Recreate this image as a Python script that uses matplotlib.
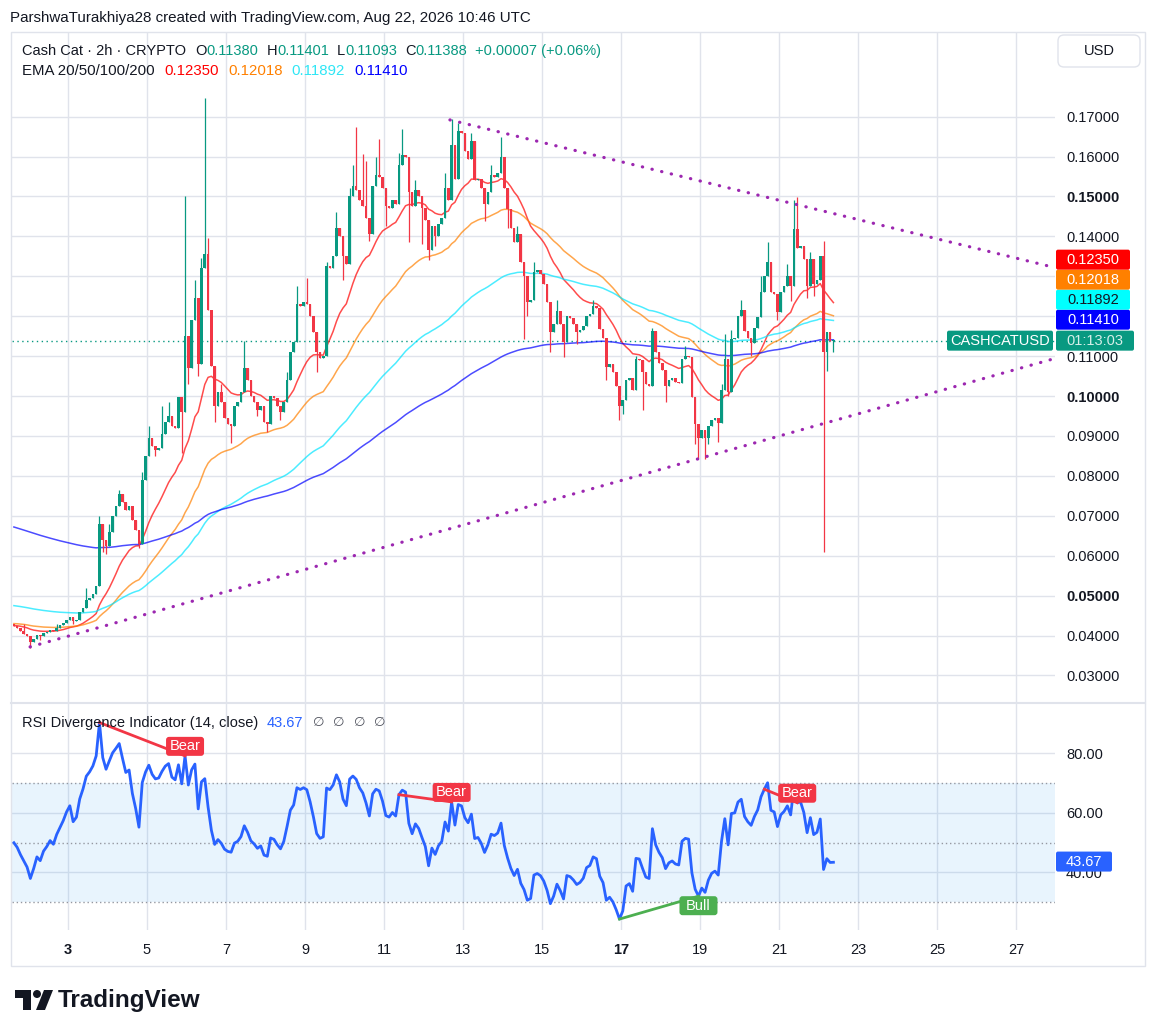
import numpy as np
import matplotlib.pyplot as plt
from matplotlib.patches import Rectangle, FancyBboxPatch, Polygon, Circle
from matplotlib.lines import Line2D
from matplotlib.transforms import IdentityTransform

plt.rcParams['font.family'] = ['Liberation Sans', 'DejaVu Sans']

W, H = 1157, 1036

# %% data (2h candles, x in day of month)
first_day = 1.63
first_open = 0.0430
closes = [
    0.0425, 0.0420, 0.0412, 0.0405, 0.0398, 0.0384, 0.0392, 0.0402, 0.0398, 0.0406,
    0.0410, 0.0415, 0.0412, 0.0420, 0.0426, 0.0432, 0.0440, 0.0446, 0.0436, 0.0440,
    0.0458, 0.0470, 0.0488, 0.0495, 0.0505, 0.0525, 0.0680, 0.0640, 0.0625, 0.0660,
    0.0700, 0.0725, 0.0755, 0.0735, 0.0715, 0.0725, 0.0690, 0.0665, 0.0630, 0.0790,
    0.0850, 0.0895, 0.0875, 0.0865, 0.0870, 0.0905, 0.0935, 0.0950, 0.0925, 0.0920,
    0.0998, 0.0960, 0.1150, 0.1070, 0.1190, 0.1245, 0.1080, 0.1320, 0.1355, 0.1215,
    0.1075, 0.0975, 0.1010, 0.0985, 0.0945, 0.0930, 0.0925, 0.0975, 0.0985, 0.1010,
    0.1070, 0.1040, 0.1000, 0.0985, 0.0965, 0.0975, 0.0935, 0.0930, 0.1000, 0.0995,
    0.0975, 0.0960, 0.0985, 0.1040, 0.1110, 0.1135, 0.1230, 0.1225, 0.1235, 0.1230,
    0.1200, 0.1160, 0.1110, 0.1095, 0.1100, 0.1325, 0.1320, 0.1350, 0.1420, 0.1400,
    0.1350, 0.1330, 0.1500, 0.1525, 0.1515, 0.1490, 0.1475, 0.1445, 0.1405, 0.1525,
    0.1555, 0.1550, 0.1520, 0.1475, 0.1470, 0.1490, 0.1480, 0.1580, 0.1605, 0.1600,
    0.1510, 0.1475, 0.1515, 0.1500, 0.1470, 0.1440, 0.1365, 0.1425, 0.1400, 0.1430,
    0.1445, 0.1520, 0.1490, 0.1630, 0.1545, 0.1665, 0.1660, 0.1615, 0.1595, 0.1640,
    0.1540, 0.1545, 0.1520, 0.1480, 0.1510, 0.1555, 0.1550, 0.1560, 0.1600, 0.1520,
    0.1468, 0.1420, 0.1385, 0.1405, 0.1335, 0.1300, 0.1235, 0.1240, 0.1310, 0.1315,
    0.1305, 0.1280, 0.1235, 0.1160, 0.1180, 0.1212, 0.1180, 0.1135, 0.1200, 0.1195,
    0.1180, 0.1160, 0.1165, 0.1175, 0.1200, 0.1205, 0.1225, 0.1220, 0.1167, 0.1145,
    0.1074, 0.1080, 0.1060, 0.1024, 0.0975, 0.0990, 0.1040, 0.1045, 0.1016, 0.1092,
    0.1090, 0.1060, 0.1030, 0.1025, 0.1162, 0.1110, 0.1084, 0.1065, 0.1024, 0.1040,
    0.1045, 0.1035, 0.1032, 0.1092, 0.1100, 0.1098, 0.0997, 0.0929, 0.0896, 0.0915,
    0.0896, 0.0924, 0.0940, 0.0945, 0.0932, 0.1016, 0.1092, 0.1010, 0.1142, 0.1145,
    0.1200, 0.1215, 0.1162, 0.1145, 0.1134, 0.1170, 0.1198, 0.1260, 0.1300, 0.1337,
    0.1260, 0.1255, 0.1210, 0.1260, 0.1275, 0.1300, 0.1275, 0.1418, 0.1370, 0.1375,
    0.1343, 0.1275, 0.1343, 0.1280, 0.1290, 0.1350, 0.1110, 0.1160, 0.1138, 0.11388,
]
# wicks that stick out of the bodies (candle index -> price)
highs = {3: 0.0428, 13: 0.0430, 22: 0.0520, 26: 0.0700, 29: 0.0680, 32: 0.0765, 39: 0.0810,
         41: 0.0925, 45: 0.0975, 47: 0.0985, 52: 0.1500, 55: 0.1290, 57: 0.1345, 58: 0.1747,
         59: 0.1395, 63: 0.1030, 70: 0.1137, 83: 0.1060, 86: 0.1275, 89: 0.1295, 95: 0.1335,
         98: 0.1460, 102: 0.1520, 103: 0.1580, 104: 0.1674, 106: 0.1606, 107: 0.1590,
         110: 0.1600, 111: 0.1644, 117: 0.1610, 118: 0.1670, 122: 0.1540, 131: 0.1560,
         133: 0.1694, 135: 0.1685, 139: 0.1660, 145: 0.1580, 148: 0.1650, 153: 0.1425,
         158: 0.1335, 165: 0.1240, 176: 0.1240, 189: 0.1100, 194: 0.1170, 204: 0.1125,
         215: 0.1030, 216: 0.1155, 218: 0.1165, 221: 0.1240, 227: 0.1300, 229: 0.1385,
         235: 0.1330, 237: 0.1490, 238: 0.1498, 242: 0.1360, 246: 0.1388, 249: 0.11401}
lows = {5: 0.0368, 8: 0.0388, 18: 0.0430, 27: 0.0610, 28: 0.0605, 38: 0.0620, 43: 0.0850,
        51: 0.0858, 53: 0.1030, 56: 0.1050, 61: 0.0936, 66: 0.0883, 74: 0.0950, 77: 0.0909,
        81: 0.0940, 92: 0.1060, 100: 0.1290, 108: 0.1388, 113: 0.1425, 120: 0.1385,
        124: 0.1380, 126: 0.1340, 128: 0.1375, 143: 0.1438, 150: 0.1420, 155: 0.1142,
        156: 0.1200, 163: 0.1110, 167: 0.1097, 171: 0.1130, 180: 0.1040, 184: 0.0940,
        185: 0.0955, 191: 0.0966, 198: 0.0985, 207: 0.0880, 208: 0.0843, 210: 0.0843,
        211: 0.0880, 214: 0.0886, 217: 0.1000, 224: 0.1100, 232: 0.1190, 236: 0.1237,
        241: 0.1245, 243: 0.1250, 246: 0.0610, 247: 0.1062, 249: 0.11093}

ema_lengths = [20, 50, 100, 200]
ema_seeds = [0.0425, 0.0430, 0.0475, 0.0672]
ema_colors = ['#ff0000', '#ff8000', '#00e5ff', '#0000ff']
ema_last = ['0.12350', '0.12018', '0.11892', '0.11410']
ohlc_last = ['0.11380', '0.11401', '0.11093', '0.11388']
change_last = '+0.00007 (+0.06%)'
rsi_seed_gain, rsi_seed_loss = 0.0006, 0.0006
rsi_last = 43.67
divergences = [(26, 52, 'Bear'), (117, 133, 'Bear'), (184, 208, 'Bull'), (228, 238, 'Bear')]
upper_trend = ([12.67, 27.99], [0.16918, 0.13218])
lower_trend = ([2.04, 27.99], [0.03717, 0.10943])
price_ticks = [0.03, 0.04, 0.05, 0.06, 0.07, 0.08, 0.09, 0.10, 0.11, 0.12, 0.13, 0.14, 0.15, 0.16, 0.17]
bold_prices = [0.05, 0.10, 0.15]
day_ticks = list(range(3, 28, 2))
bold_days = [3, 17]
rsi_ticks = [40, 60, 80]

UP, DOWN = '#089981', '#f23645'
TXT = '#131722'
GRID = '#e0e3eb'
PX = IdentityTransform()

# %% derived series
n = len(closes)
x = first_day + np.arange(n) / 12
c = np.array(closes)
o = np.concatenate([[first_open], c[:-1]])
hi = np.array([max(o[i], c[i], highs.get(i, 0)) for i in range(n)])
lo = np.array([min(o[i], c[i], lows.get(i, 1)) for i in range(n)])

emas = []
for L, seed in zip(ema_lengths, ema_seeds):
    a = 2 / (L + 1)
    e = [seed]
    for v in c[1:]:
        e.append(e[-1] + a * (v - e[-1]))
    emas.append(np.array(e))

ag, al = rsi_seed_gain, rsi_seed_loss
rsi = [100 - 100 / (1 + ag / al)]
for i in range(1, n):
    d = c[i] - c[i - 1]
    ag = (ag * 13 + max(d, 0)) / 14
    al = (al * 13 + max(-d, 0)) / 14
    rsi.append(100 - 100 / (1 + ag / al))
rsi = np.array(rsi)

# %% figure
fig = plt.figure(figsize=(W / 100, H / 100), dpi=100)
fig.patch.set_facecolor('white')

def fbox(x0, y0, x1, y1):
    return [x0 / W, 1 - y1 / H, (x1 - x0) / W, (y1 - y0) / H]

ax = fig.add_axes(fbox(12, 32, 1055, 703))
rax = fig.add_axes(fbox(12, 703, 1055, 930))
xlim = (1.582, 27.99)

# candles
col = np.where(c >= o, UP, DOWN)
ax.vlines(x, lo, hi, colors=col, lw=0.9, zorder=3)
ax.bar(x, np.maximum(np.abs(c - o), 0.00025), bottom=np.minimum(o, c), width=0.066,
       color=col, lw=0, zorder=4)

for e, cl in zip(emas, ema_colors):
    ax.plot(x, e, color=cl, lw=1.1, alpha=0.7, zorder=2)

dots = dict(color='#9c27b0', lw=2.3, linestyle=(0, (0.1, 3.0)), dash_capstyle='round', zorder=5)
ax.plot(*upper_trend, **dots)
ax.plot(*lower_trend, **dots)

ax.axhline(c[-1], color=UP, lw=1, linestyle=(0, (1, 2.5)), zorder=1)

ax.set_xlim(*xlim)
ax.set_ylim(0.02311, 0.1912)
ax.set_yticks(price_ticks)
ax.set_yticklabels(['%.5f' % p for p in price_ticks])
ax.set_xticks(day_ticks)
ax.tick_params(axis='x', labelbottom=False, length=0)
ax.yaxis.tick_right()
ax.tick_params(axis='y', length=0, pad=8, labelsize=10.5, labelcolor=TXT)
for tick, p in zip(ax.yaxis.get_major_ticks(), price_ticks):
    if round(p, 2) in bold_prices:
        tick.label2.set_fontweight('bold')
ax.grid(color=GRID, lw=1)
ax.set_axisbelow(True)
for s in ax.spines.values():
    s.set_visible(False)

# RSI pane
rax.axhspan(30, 70, color='#2196f3', alpha=0.1, lw=0)
for v in (70, 50, 30):
    rax.axhline(v, color='#9598a1', lw=1, linestyle=(0, (1, 2)))
rax.plot(x, rsi, color='#2962ff', lw=2, zorder=4)
rax.set_xlim(*xlim)
rax.set_ylim(20.67, 96.97)
rax.set_yticks(rsi_ticks)
rax.set_yticklabels(['%.2f' % v for v in rsi_ticks])
rax.yaxis.tick_right()
rax.tick_params(axis='y', length=0, pad=8, labelsize=10.5, labelcolor=TXT)
rax.set_xticks(day_ticks)
rax.set_xticklabels([str(d) for d in day_ticks])
for lab, d in zip(rax.get_xticklabels(), day_ticks):
    if d in bold_days:
        lab.set_fontweight('bold')
rax.tick_params(axis='x', length=0, pad=9, labelsize=10.5, labelcolor=TXT)
rax.grid(color=GRID, lw=1)
rax.set_axisbelow(True)
for s in rax.spines.values():
    s.set_visible(False)

# %% pixel helpers (y measured from the top)
def ypx(axis, val):
    return H - axis.transData.transform((xlim[0], val))[1]

def xpx(axis, val):
    return axis.transData.transform((val, 0))[0]

def box(x0, x1, yc, h, fc, text, tc, size=10.5, round_=0, ec='none'):
    if round_:
        p = FancyBboxPatch((x0, H - yc - h / 2), x1 - x0, h, boxstyle='round,pad=0,rounding_size=%d' % round_,
                           transform=PX, fc=fc, ec=ec, lw=1, zorder=10)
    else:
        p = Rectangle((x0, H - yc - h / 2), x1 - x0, h, transform=PX, fc=fc, ec=ec, zorder=10)
    fig.add_artist(p)
    fig.text((x0 + x1) / 2 / W, 1 - yc / H, text, ha='center', va='center', color=tc,
             fontsize=size, zorder=11)

renderer = fig.canvas.get_renderer()

def runs(x0, y, parts, size=10.5):
    cur = x0
    for s, cl, gap, *sz in parts:
        t = fig.text(cur / W, 1 - y / H, s, color=cl, fontsize=sz[0] if sz else size,
                     ha='left', va='center')
        cur += t.get_window_extent(renderer).width + gap

# divergences
for i1, i2, kind in divergences:
    cl = DOWN if kind == 'Bear' else '#4caf50'
    rax.plot([x[i1], x[i2]], [rsi[i1], rsi[i2]], color=cl, lw=2, zorder=5)
    px2, py2 = xpx(rax, x[i2]), ypx(rax, rsi[i2])
    yc = py2 - 9.5 if kind == 'Bear' else py2 + 9.5
    box(px2 - 19, px2 + 19, yc, 19, cl, kind, 'white', size=10.5, round_=3)

# right-side labels
yp = ypx(ax, c[-1])
box(947, 1053, yp, 20, UP, 'CASHCATUSD', 'white', round_=2)
box(1056, 1134, yp, 20, UP, '01:13:03', '#d6efe9', round_=2)
tcols = ['white', 'white', TXT, 'white']
for k in range(4):
    j = 3 - k
    box(1056, 1130, yp - 20 * (k + 1) - 1, 20, ema_colors[j] if j != 2 else '#00ffff',
        ema_last[j], tcols[j], round_=2)
box(1056, 1112, ypx(rax, rsi_last), 20, '#2962ff', '%.2f' % rsi_last, 'white', round_=2)
box(1058, 1140, 51, 32, 'white', 'USD', TXT, round_=6, ec=GRID)

# frame and pane separator
fig.add_artist(Rectangle((11, H - 966), 1134, 934, transform=PX, fc='none', ec=GRID, lw=1))
fig.add_artist(Line2D([11, 1145], [H - 703, H - 703], transform=PX, color=GRID, lw=1.5))

# texts
fig.text(10 / W, 1 - 18 / H, 'ParshwaTurakhiya28 created with TradingView.com, Aug 22, 2026 10:46 UTC',
         fontsize=10.9, color=TXT, va='center')
runs(22, 51, [('Cash Cat · 2h · CRYPTO', TXT, 9),
              ('O', TXT, 0), (ohlc_last[0], UP, 8),
              ('H', TXT, 0), (ohlc_last[1], UP, 8),
              ('L', TXT, 0), (ohlc_last[2], UP, 8),
              ('C', TXT, 0), (ohlc_last[3], UP, 8),
              (change_last, UP, 0)])
runs(22, 71, [('EMA 20/50/100/200', TXT, 10)] +
     [(v, cl if cl != '#00e5ff' else '#2fe6f5', 9) for v, cl in zip(ema_last, ema_colors)],
     size=10.8)
runs(22, 723, [('RSI Divergence Indicator (14, close)', TXT, 8),
               ('%.2f' % rsi_last, '#2962ff', 10),
               ('∅', '#50535e', 9, 9.5), ('∅', '#50535e', 9, 9.5),
               ('∅', '#50535e', 9, 9.5), ('∅', '#50535e', 0, 9.5)])

# TradingView logo
logo = '#131722'
fig.add_artist(Polygon([(15, H - 990), (31, H - 990), (31, H - 1010), (23, H - 1010),
                        (23, H - 998), (15, H - 998)], closed=True, transform=PX, fc=logo, ec='none'))
fig.add_artist(Circle((37, H - 994), 4, transform=PX, fc=logo, ec='none'))
fig.add_artist(Polygon([(44, H - 990), (53, H - 990), (45, H - 1010), (36, H - 1010)],
                       closed=True, transform=PX, fc=logo, ec='none'))
fig.text(58 / W, 1 - 1000 / H, 'TradingView', fontsize=17.5, fontweight='bold', color=logo,
         va='center', ha='left')

fig.savefig('out.png', dpi=100)
